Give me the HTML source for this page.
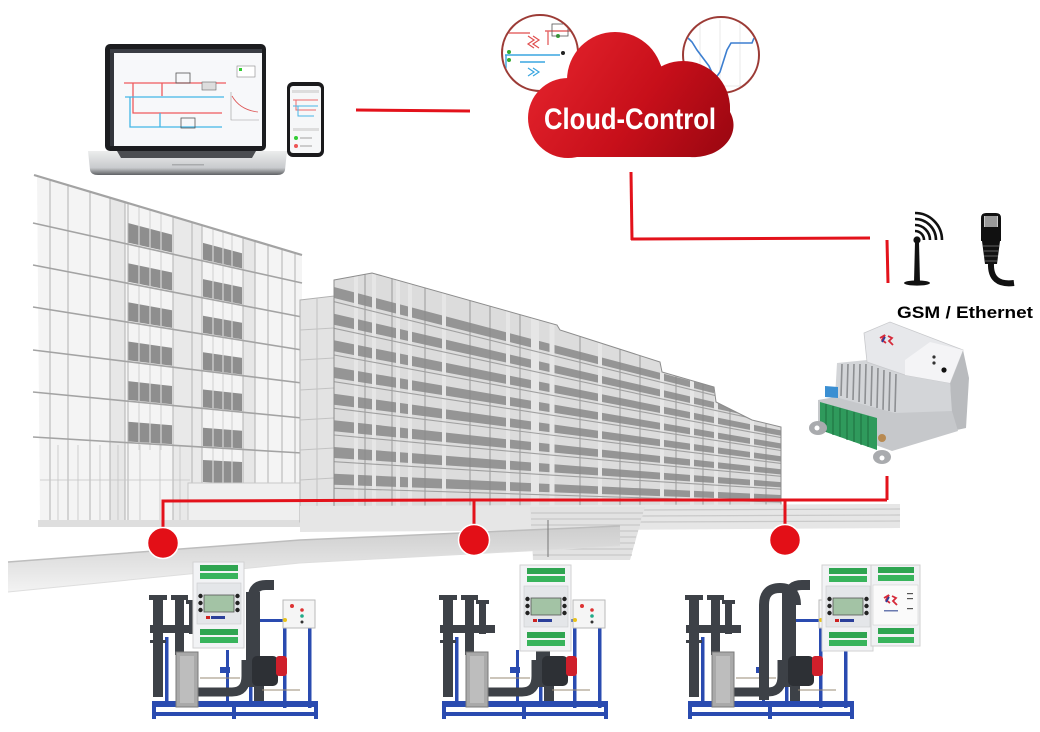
<!DOCTYPE html>
<html><head><meta charset="utf-8">
<style>
html,body{margin:0;padding:0;background:#fff;}
svg{display:block;}
</style></head><body>
<svg width="1040" height="732" viewBox="0 0 1040 732" xmlns="http://www.w3.org/2000/svg">
<defs>
 <linearGradient id="cg" gradientUnits="userSpaceOnUse" x1="545" y1="40" x2="720" y2="160">
  <stop offset="0" stop-color="#e4232c"/>
  <stop offset="0.55" stop-color="#c70f1a"/>
  <stop offset="1" stop-color="#9c0711"/>
 </linearGradient>
 <linearGradient id="slab" x1="0" y1="0" x2="0" y2="1">
  <stop offset="0" stop-color="#cdcdcd"/><stop offset="1" stop-color="#f3f3f3"/>
 </linearGradient>
 <linearGradient id="lapbase" x1="0" y1="0" x2="0" y2="1">
  <stop offset="0" stop-color="#eceded"/><stop offset="0.7" stop-color="#c8cacd"/><stop offset="1" stop-color="#5f6164"/>
 </linearGradient>
 <clipPath id="cpL"><polygon points="37,175 302,255 302,524 40,524"/></clipPath>
 <clipPath id="cpM"><polygon points="334,280 372,273 557,325 560,330 660,362 662,372 714,387 716,402 752,420 781,427 781,518 334,518"/></clipPath>
 <clipPath id="cc1"><circle cx="540" cy="53" r="37"/></clipPath>
 <clipPath id="cc2"><circle cx="721" cy="55" r="37"/></clipPath>
</defs>

<!-- ============ LEFT BUILDING ============ -->
<polygon points="37,175 302,255 302,524 40,524" fill="#f4f4f4"/>
<g clip-path="url(#cpL)">
 <rect x="110" y="170" width="15" height="360" fill="#e7e7e7"/>
 <rect x="173" y="170" width="29" height="360" fill="#e9e9e9"/>
 <rect x="243" y="170" width="12" height="360" fill="#e7e7e7"/>
 <g fill="#8e8e8e">
  <polygon points="128,223 172,234.6 172,252.5 128,242.6"/>
  <polygon points="128,263.2 172,272.5 172,290.5 128,281.8"/>
  <polygon points="128,302.3 172,310.2 172,327.9 128,320.7"/>
  <polygon points="128,341.5 172,347.9 172,365.8 128,360.3"/>
  <polygon points="128,381.1 172,386 172,404.2 128,399.9"/>
  <polygon points="128,421.7 172,425.2 172,444.1 128,441.5"/>
  <polygon points="203,242.9 242,253.2 242,268.4 203,259.6"/>
  <polygon points="203,279.1 242,287.3 242,304.2 203,296.6"/>
  <polygon points="203,315.8 242,322.8 242,339.3 203,332.9"/>
  <polygon points="203,352.3 242,357.9 242,374.5 203,369.7"/>
  <polygon points="203,389.5 242,393.8 242,411.1 203,407.3"/>
  <polygon points="203,427.7 242,430.8 242,448.4 203,446"/>
  <polygon points="203,460 242,462 242,484 203,482"/>
 </g>
 <g stroke="#d6d6d6" stroke-width="1.2">
  <line x1="139" y1="170" x2="139" y2="450"/><line x1="150" y1="170" x2="150" y2="450"/><line x1="161" y1="170" x2="161" y2="450"/>
  <line x1="213" y1="170" x2="213" y2="490"/><line x1="223" y1="170" x2="223" y2="490"/><line x1="232" y1="170" x2="232" y2="490"/>
 </g>
 <g stroke="#b2b2b2" stroke-width="1">
  <line x1="50" y1="170" x2="50" y2="524"/><line x1="68" y1="170" x2="68" y2="524"/><line x1="90" y1="170" x2="90" y2="524"/>
  <line x1="110" y1="170" x2="110" y2="524"/><line x1="125" y1="170" x2="125" y2="524"/><line x1="128" y1="170" x2="128" y2="524"/>
  <line x1="173" y1="170" x2="173" y2="524"/><line x1="192" y1="170" x2="192" y2="524"/><line x1="202" y1="170" x2="202" y2="524"/>
  <line x1="243" y1="170" x2="243" y2="524"/><line x1="255" y1="170" x2="255" y2="524"/><line x1="268" y1="170" x2="268" y2="524"/>
  <line x1="282" y1="170" x2="282" y2="524"/><line x1="295" y1="170" x2="295" y2="524"/>
 </g>
 <g stroke="#c4c4c4" stroke-width="0.8">
  <line x1="58" y1="445" x2="58" y2="522"/><line x1="78" y1="445" x2="78" y2="522"/><line x1="100" y1="445" x2="100" y2="522"/>
  <line x1="118" y1="445" x2="118" y2="522"/><line x1="140" y1="445" x2="140" y2="522"/><line x1="160" y1="445" x2="160" y2="522"/>
  <line x1="180" y1="445" x2="180" y2="522"/>
  <line x1="40" y1="480" x2="190" y2="480"/>
 </g>
 <rect x="188" y="483" width="114" height="40" fill="#efefef" stroke="#c8c8c8"/>
</g>
<g stroke="#a3a3a3" stroke-width="1.6">
 <line x1="34" y1="175" x2="302" y2="255" stroke-width="2.2"/>
 <line x1="33" y1="223" x2="302" y2="283"/>
 <line x1="33" y1="265" x2="302" y2="317"/>
 <line x1="33" y1="307" x2="302" y2="350"/>
 <line x1="33" y1="350" x2="302" y2="383"/>
 <line x1="33" y1="392" x2="302" y2="418"/>
 <line x1="33" y1="437" x2="302" y2="453"/>
</g>
<rect x="38" y="520" width="264" height="7" fill="#dedede"/>

<!-- connector -->
<polygon points="300,300 334,296 334,518 300,522" fill="#e3e3e3" stroke="#b0b0b0"/>
<g stroke="#c2c2c2" stroke-width="1">
 <line x1="300" y1="330" x2="334" y2="328"/><line x1="300" y1="360" x2="334" y2="358"/><line x1="300" y1="390" x2="334" y2="388"/>
 <line x1="300" y1="420" x2="334" y2="418"/><line x1="300" y1="450" x2="334" y2="448"/><line x1="300" y1="480" x2="334" y2="478"/>
 <line x1="317" y1="298" x2="317" y2="520"/>
</g>

<!-- ============ MIDDLE BUILDING ============ -->
<polygon points="334,280 372,273 557,325 560,330 660,362 662,372 714,387 716,402 752,420 781,427 781,518 334,518" fill="#dcdcdc"/>
<g clip-path="url(#cpM)">
 <g fill="#6a6a6a" opacity="0.62">
  <polygon points="334,287 781,404.6 781,410 334,298"/>
  <polygon points="334,313.7 781,417.6 781,422.9 334,324.7"/>
  <polygon points="334,340.3 781,430.4 781,435.8 334,351.3"/>
  <polygon points="334,367 781,443.4 781,448.7 334,378"/>
  <polygon points="334,393.7 781,456.3 781,461.6 334,404.7"/>
  <polygon points="334,420.3 781,469.2 781,474.5 334,431.3"/>
  <polygon points="334,447 781,482.1 781,487.4 334,458"/>
  <polygon points="334,473.7 781,495 781,500.3 334,484.7"/>
 </g>
 <g stroke="#e6e6e6" stroke-width="4">
  <line x1="356" y1="260" x2="356" y2="520"/><line x1="374" y1="260" x2="374" y2="520"/><line x1="398" y1="260" x2="398" y2="520"/><line x1="410" y1="260" x2="410" y2="520"/>
  <line x1="444" y1="260" x2="444" y2="520"/><line x1="508" y1="260" x2="508" y2="520"/>
  <line x1="535" y1="260" x2="535" y2="520" stroke-width="8"/><line x1="552" y1="260" x2="552" y2="520" stroke-width="5"/>
  <line x1="600" y1="260" x2="600" y2="520"/><line x1="662" y1="260" x2="662" y2="520"/><line x1="692" y1="260" x2="692" y2="520"/>
  <line x1="716" y1="260" x2="716" y2="520"/><line x1="752" y1="260" x2="752" y2="520"/>
 </g>
 <g stroke="#8a8a8a" stroke-width="0.8">
  <line x1="365" y1="260" x2="365" y2="520"/><line x1="392" y1="260" x2="392" y2="520"/><line x1="425" y1="260" x2="425" y2="520"/>
  <line x1="470" y1="260" x2="470" y2="520"/><line x1="490" y1="260" x2="490" y2="520"/><line x1="520" y1="260" x2="520" y2="520"/>
  <line x1="580" y1="260" x2="580" y2="520"/><line x1="620" y1="260" x2="620" y2="520"/><line x1="640" y1="260" x2="640" y2="520"/>
  <line x1="676" y1="260" x2="676" y2="520"/><line x1="703" y1="260" x2="703" y2="520"/><line x1="730" y1="260" x2="730" y2="520"/>
  <line x1="766" y1="260" x2="766" y2="520"/>
 </g>
 <g stroke="#a0a0a0" stroke-width="1.1">
  <line x1="334" y1="301.7" x2="781" y2="411.8"/><line x1="334" y1="328.3" x2="781" y2="424.6"/>
  <line x1="334" y1="355" x2="781" y2="437.6"/><line x1="334" y1="381.7" x2="781" y2="450.5"/>
  <line x1="334" y1="408.3" x2="781" y2="463.4"/><line x1="334" y1="435" x2="781" y2="476.3"/>
  <line x1="334" y1="461.7" x2="781" y2="489.2"/><line x1="334" y1="488.3" x2="781" y2="502.1"/>
 </g>
</g>
<polygon points="334,280 372,273 557,325 560,330 660,362 662,372 714,387 716,402 752,420 781,427 781,518 334,518" fill="none" stroke="#8c8c8c" stroke-width="1"/>

<!-- plaza / steps -->
<polygon points="300,506 900,504 900,528 300,532" fill="#e6e6e6"/>
<g stroke="#c9c9c9" stroke-width="1.2">
 <line x1="640" y1="510" x2="900" y2="509"/><line x1="640" y1="516" x2="900" y2="515"/><line x1="640" y1="522" x2="900" y2="521"/>
</g>
<polygon points="530,507 645,507 630,560 533,560" fill="#e2e2e2"/>
<g stroke="#c3c3c3" stroke-width="1">
 <line x1="531" y1="513" x2="643" y2="513"/><line x1="531" y1="519" x2="641" y2="519"/><line x1="531" y1="525" x2="640" y2="525"/>
 <line x1="532" y1="531" x2="638" y2="531"/><line x1="532" y1="537" x2="636" y2="537"/><line x1="532" y1="543" x2="635" y2="543"/>
 <line x1="533" y1="549" x2="633" y2="549"/><line x1="533" y1="555" x2="632" y2="555"/>
</g>

<!-- ground slab -->
<polygon points="8,562 300,540 620,526 620,546 300,563 8,592" fill="url(#slab)"/>
<polyline points="8,562 300,540 620,526" fill="none" stroke="#bdbdbd" stroke-width="1.5"/>
<polyline points="8,592 300,563 620,546" fill="none" stroke="#dedede" stroke-width="1"/>
<line x1="548" y1="520" x2="548" y2="557" stroke="#777" stroke-width="1"/>

<!-- ============ LAPTOP ============ -->
<rect x="105" y="44" width="161" height="107" rx="5" fill="#1c1d20"/>
<rect x="110" y="49" width="152" height="97" fill="#f7f8fa"/>
<rect x="110" y="49" width="152" height="4" fill="#3a3d44"/>
<rect x="110" y="53" width="4" height="93" fill="#33363c"/>
<g fill="none" stroke-width="1.3">
 <path d="M124 83 H226 M133 83 V113 H222 M162 83 V96" stroke="#ee5a5e"/>
 <path d="M125 97 H224 M130 97 V127 H222 M160 113 V127" stroke="#42b6e6"/>
</g>
<rect x="176" y="73" width="14" height="10" fill="none" stroke="#555" stroke-width="0.8"/>
<rect x="181" y="118" width="14" height="10" fill="none" stroke="#555" stroke-width="0.8"/>
<rect x="202" y="82" width="14" height="8" fill="#ddd" stroke="#666" stroke-width="0.6"/>
<rect x="237" y="66" width="18" height="11" fill="#fff" stroke="#888" stroke-width="0.6"/>
<rect x="239" y="68" width="3" height="3" fill="#3c3"/>
<path d="M232 96 Q240 110 258 112" fill="none" stroke="#d55" stroke-width="0.8"/>
<path d="M231 92 V120 H259" fill="none" stroke="#999" stroke-width="0.6"/>
<path d="M88 151 H287 L285 170 Q284 175 277 175 H98 Q91 175 90 170 Z" fill="url(#lapbase)"/>
<path d="M117 151 H256 L252 158 H121 Z" fill="#4b4d51"/>
<rect x="172" y="164" width="32" height="1.5" fill="#a9abad"/>
<!-- phone -->
<rect x="287" y="82" width="37" height="75" rx="6" fill="#1a1a1c"/>
<rect x="290" y="86" width="31" height="67" rx="3" fill="#f6f7f8"/>
<rect x="292" y="90" width="27" height="3" fill="#ddd"/>
<path d="M293 100 H318 M296 100 V110 H316" stroke="#ee6a6a" stroke-width="1" fill="none"/>
<path d="M293 106 H318 M298 106 V116 H314" stroke="#4bb5e6" stroke-width="1" fill="none"/>
<rect x="293" y="128" width="26" height="3" fill="#ddd"/>
<circle cx="296" cy="138" r="2" fill="#3c3"/><circle cx="296" cy="146" r="2" fill="#e55"/>
<rect x="300" y="137" width="12" height="2" fill="#ccc"/><rect x="300" y="145" width="12" height="2" fill="#ccc"/>

<!-- ============ CLOUD ============ -->
<circle cx="540" cy="53" r="38" fill="#fff"/>
<g clip-path="url(#cc1)">
 <path d="M503 33 H530 M545 31 H570 M548 31 V45" stroke="#e56a6a" stroke-width="1.4" fill="none"/>
 <path d="M528 36 L534 40 L528 44 L534 48 M533 36 L539 40 L533 44 L539 48" stroke="#e05050" stroke-width="1.2" fill="none"/>
 <path d="M528 68 L534 72 L528 76 M533 68 L539 72 L533 76" stroke="#3aa6e0" stroke-width="1.2" fill="none"/>
 <path d="M505 55 H560 M506 55 V70 M520 62 H545" stroke="#3aa6e0" stroke-width="1.4" fill="none"/>
 <circle cx="509" cy="52" r="2" fill="#3a3"/><circle cx="509" cy="60" r="2" fill="#3a3"/>
 <circle cx="558" cy="36" r="2" fill="#3a3"/><circle cx="563" cy="53" r="2" fill="#222"/>
 <rect x="552" y="24" width="16" height="12" fill="none" stroke="#555" stroke-width="0.8"/>
</g>
<circle cx="540" cy="53" r="38" fill="none" stroke="#9c3b36" stroke-width="2"/>
<circle cx="721" cy="55" r="38" fill="#fff"/>
<g clip-path="url(#cc2)">
 <g stroke="#e3e3e3" stroke-width="0.8"><line x1="700" y1="20" x2="700" y2="90"/><line x1="720" y1="20" x2="720" y2="90"/><line x1="740" y1="20" x2="740" y2="90"/><line x1="680" y1="86" x2="760" y2="86"/></g>
 <polyline points="686,36 692,42 697,50 703,58 709,66 715,79 720,72 727,50 731,43 752,43 754,38" fill="none" stroke="#3d7fd0" stroke-width="1.6"/>
</g>
<circle cx="721" cy="55" r="38" fill="none" stroke="#9c3b36" stroke-width="2"/>
<path fill="url(#cg)" d="M568 157 A40 40 0 0 1 570 78 A48 48 0 0 1 662 68 A47 47 0 0 1 730 112 A40 32 0 0 1 690 157 Z"/>
<g fill="url(#cg)">
 <circle cx="615" cy="80" r="48"/>
 <circle cx="683" cy="108" r="47"/>
 <circle cx="568" cy="118" r="40"/>
 <ellipse cx="690" cy="125" rx="40" ry="32"/>
 <rect x="568" y="100" width="122" height="57"/>
</g>
<text x="630" y="129" text-anchor="middle" font-family="Liberation Sans, sans-serif" font-weight="bold" font-size="30" fill="#fff" textLength="172" lengthAdjust="spacingAndGlyphs">Cloud-Control</text>

<!-- ============ RED CONNECTIONS ============ -->
<g stroke="#e3121b" stroke-width="3" fill="none">
 <line x1="356" y1="110" x2="470" y2="111"/>
 <line x1="631" y1="172" x2="632" y2="240"/>
 <line x1="631" y1="239" x2="870" y2="238"/>
 <line x1="887" y1="240" x2="888" y2="283"/>
 <line x1="887" y1="476" x2="887" y2="500"/>
 <polyline points="163,532 163,501 470,500 887,500"/>
 <line x1="474" y1="500" x2="474" y2="528"/>
 <line x1="785" y1="500" x2="785" y2="528"/>
</g>
<g fill="#e30f17" stroke="#fff" stroke-width="1.5">
 <circle cx="163" cy="543" r="15.5"/>
 <circle cx="474" cy="540" r="15.5"/>
 <circle cx="785" cy="540" r="15.5"/>
</g>

<!-- ============ ANTENNA / ETHERNET ============ -->
<g fill="none" stroke="#111" stroke-width="2.6">
 <path d="M915 231 A9 9 0 0 1 924 240"/>
 <path d="M915 225 A15 15 0 0 1 930 240"/>
 <path d="M915 219 A21 21 0 0 1 936 240"/>
 <path d="M915 213 A27 27 0 0 1 942 240"/>
</g>
<polygon points="915,242 919,242 920,282 914,282" fill="#111"/>
<circle cx="917" cy="240" r="3.6" fill="#111"/>
<ellipse cx="917" cy="283" rx="13" ry="2.6" fill="#111"/>
<path d="M981 218 Q981 213 986 213 H996 Q1001 213 1001 218 V241 H981 Z" fill="#111"/>
<rect x="984" y="216" width="14" height="11" fill="#c9c9c9"/>
<g stroke="#555" stroke-width="0.8"><line x1="986" y1="216" x2="986" y2="227"/><line x1="988" y1="216" x2="988" y2="227"/><line x1="990" y1="216" x2="990" y2="227"/><line x1="992" y1="216" x2="992" y2="227"/><line x1="994" y1="216" x2="994" y2="227"/><line x1="996" y1="216" x2="996" y2="227"/></g>
<polygon points="982,241 1000,241 997,264 985,264" fill="#111"/>
<g stroke="#777" stroke-width="0.8"><line x1="983" y1="246" x2="999" y2="246"/><line x1="984" y1="251" x2="998" y2="251"/><line x1="984" y1="256" x2="998" y2="256"/><line x1="985" y1="261" x2="997" y2="261"/></g>
<path d="M991 263 Q990 286 1014 283" fill="none" stroke="#111" stroke-width="6"/>
<text x="897" y="318" font-family="Liberation Sans, sans-serif" font-weight="bold" font-size="17" fill="#000" textLength="136" lengthAdjust="spacingAndGlyphs">GSM / Ethernet</text>

<!-- ============ GATEWAY DEVICE ============ -->
<polygon points="950,383 963,350 969,378 966,428 952,431" fill="#b9bbbe"/>
<polygon points="837,363 867,360 905,375 950,383 952,412 895,414 835,398" fill="#d3d5d8"/>
<g stroke="#8d8f92" stroke-width="1.6">
 <line x1="842" y1="364" x2="841" y2="396"/><line x1="848" y1="364" x2="847" y2="398"/><line x1="854" y1="364" x2="853" y2="400"/>
 <line x1="860" y1="364" x2="859" y2="402"/><line x1="866" y1="364" x2="865" y2="404"/><line x1="872" y1="366" x2="871" y2="406"/>
 <line x1="878" y1="368" x2="877" y2="408"/><line x1="884" y1="370" x2="883" y2="410"/><line x1="890" y1="372" x2="889" y2="411"/>
 <line x1="896" y1="374" x2="895" y2="412"/>
</g>
<polygon points="864,333 890,322 963,350 950,383 905,375 867,362" fill="#e7e8eb" stroke="#c8c9cc" stroke-width="0.8"/>
<polygon points="905,375 950,383 963,350 930,342 905,360" fill="#f4f4f6"/>
<path d="M880 338 l5 -3 l-3 5 l4 3 M888 336 l4 2 l-3 3 l4 4" fill="none" stroke-width="1.8" stroke="#d62a3a"/>
<path d="M885 337 l-3 5" stroke="#2b3f9a" stroke-width="1.8"/>
<circle cx="934" cy="357" r="1.6" fill="#333"/><circle cx="934" cy="363" r="1.6" fill="#333"/><circle cx="944" cy="370" r="2.6" fill="#111"/>
<polygon points="818,400 835,397 895,413 952,411 958,431 892,451 818,424" fill="#c6c8cb"/>
<polygon points="820,402 877,418 877,450 820,430" fill="#2f9a5c"/>
<g stroke="#1d6d3e" stroke-width="1"><line x1="826" y1="404" x2="826" y2="432"/><line x1="833" y1="406" x2="833" y2="435"/><line x1="840" y1="408" x2="840" y2="437"/><line x1="847" y1="410" x2="847" y2="440"/><line x1="854" y1="412" x2="854" y2="442"/><line x1="861" y1="414" x2="861" y2="445"/><line x1="868" y1="416" x2="868" y2="447"/></g>
<polygon points="825,386 838,387 838,398 825,397" fill="#3b8fd2"/>
<circle cx="882" cy="438" r="4" fill="#b88a52"/>
<ellipse cx="818" cy="428" rx="9" ry="7" fill="#a9abae"/><circle cx="817" cy="428" r="2.5" fill="#fff"/>
<ellipse cx="882" cy="457" rx="9" ry="7" fill="#a9abae"/><circle cx="882" cy="458" r="2.5" fill="#fff"/>

<!-- ============ SKIDS ============ -->
<g id="skid">
 <g fill="#2a4bb0">
  <rect x="165" y="637" width="3.5" height="70"/>
  <rect x="249" y="606" width="3.5" height="100"/>
  <rect x="283" y="628" width="3.5" height="80"/>
  <rect x="308" y="628" width="3.5" height="80"/>
  <rect x="226" y="650" width="3" height="55"/>
  <rect x="252" y="619" width="34" height="3"/>
  <rect x="152" y="701" width="166" height="6"/>
  <rect x="155" y="712" width="163" height="4"/>
  <rect x="152" y="701" width="4" height="18"/>
  <rect x="232" y="701" width="4" height="18"/>
  <rect x="314" y="701" width="4" height="18"/>
  <rect x="220" y="667" width="10" height="6"/>
 </g>
 <g fill="#3d4147">
  <rect x="153" y="600" width="10" height="97"/>
  <rect x="149" y="595" width="18" height="5"/>
  <rect x="150" y="640" width="16" height="3"/>
  <rect x="175" y="600" width="9" height="55"/>
  <rect x="171" y="595" width="17" height="5"/>
  <rect x="150" y="625" width="55" height="8"/>
  <rect x="189" y="604" width="7" height="30"/>
  <rect x="186" y="600" width="13" height="4"/>
  <rect x="246" y="592" width="14" height="95"/>
  <rect x="254" y="683" width="10" height="18"/>
 </g>
 <path d="M196 692 H232 Q246 692 246 676 V660" fill="none" stroke="#3d4147" stroke-width="9"/>
 <path d="M253 597 Q253 585 266 585 H274" fill="none" stroke="#3d4147" stroke-width="10"/>
 <rect x="176" y="652" width="22" height="55" fill="#a9a9a9" stroke="#7b7b7b"/>
 <rect x="180" y="656" width="14" height="47" fill="#bdbdbd"/>
 <rect x="252" y="656" width="26" height="30" rx="5" fill="#2d3035"/>
 <rect x="276" y="656" width="11" height="20" rx="3" fill="#cf1f2b"/>
 <path d="M200 678 H240 M262 690 H300" stroke="#9a8b76" stroke-width="1" fill="none"/>
 <rect x="283" y="600" width="32" height="28" fill="#f5f5f5" stroke="#b9b9b9"/>
 <circle cx="292" cy="606" r="2" fill="#d33"/><circle cx="302" cy="610" r="1.8" fill="#d33"/>
 <circle cx="302" cy="616" r="1.8" fill="#2a8"/><circle cx="302" cy="622" r="1.5" fill="#333"/>
 <circle cx="285" cy="620" r="2" fill="#e8c21a"/>
</g>
<use href="#skid" transform="translate(290 0)"/>
<use href="#skid" transform="translate(536 0)"/>
<path d="M764 700 V605 Q764 588 780 588 Q796 588 796 605" fill="none" stroke="#3d4147" stroke-width="10"/>

<g id="ctl">
 <rect x="193" y="562" width="51" height="86" fill="#f2f3f5" stroke="#d2d2d2"/>
 <rect x="200" y="565" width="38" height="6" fill="#2fa551"/>
 <rect x="200" y="573" width="38" height="6" fill="#38b45c"/>
 <rect x="197" y="583" width="44" height="41" fill="#e4e6e9" stroke="#c9cbce" stroke-width="0.6"/>
 <rect x="204" y="595" width="30" height="17" fill="#a3c3a5" stroke="#555" stroke-width="0.8"/>
 <g fill="#222"><circle cx="200.5" cy="596" r="2.2"/><circle cx="200.5" cy="603" r="2.2"/><circle cx="200.5" cy="610" r="2.2"/><circle cx="237.5" cy="596" r="2.2"/><circle cx="237.5" cy="603" r="2.2"/><circle cx="237.5" cy="610" r="2.2"/></g>
 <rect x="206" y="616" width="4" height="3" fill="#c22"/><rect x="211" y="616" width="14" height="3" fill="#2b3f9a"/>
 <rect x="200" y="629" width="38" height="6" fill="#2fa551"/>
 <rect x="200" y="637" width="38" height="6" fill="#38b45c"/>
</g>
<use href="#ctl" transform="translate(327 3)"/>
<use href="#ctl" transform="translate(629 3)"/>
<rect x="871" y="565" width="49" height="81" fill="#f0f1f3" stroke="#cfcfcf"/>
<rect x="878" y="567" width="36" height="6" fill="#2fa551"/>
<rect x="878" y="575" width="36" height="6" fill="#38b45c"/>
<rect x="873" y="585" width="45" height="40" fill="#fafafa" stroke="#d0d0d0" stroke-width="0.6"/>
<path d="M884 598 l5 -3 l-3 5 l4 3 M892 596 l4 2 l-3 3 l4 4" fill="none" stroke-width="1.8" stroke="#d62a3a"/>
<path d="M889 597 l-3 5" stroke="#2b3f9a" stroke-width="1.8"/>
<rect x="884" y="610" width="14" height="1.5" fill="#6a7ab0"/>
<g fill="#555"><rect x="907" y="593" width="6" height="1.2"/><rect x="907" y="598" width="6" height="1.2"/><rect x="907" y="608" width="6" height="1.2"/></g>
<rect x="878" y="628" width="36" height="6" fill="#2fa551"/>
<rect x="878" y="637" width="36" height="6" fill="#38b45c"/>
</svg>
</body></html>
